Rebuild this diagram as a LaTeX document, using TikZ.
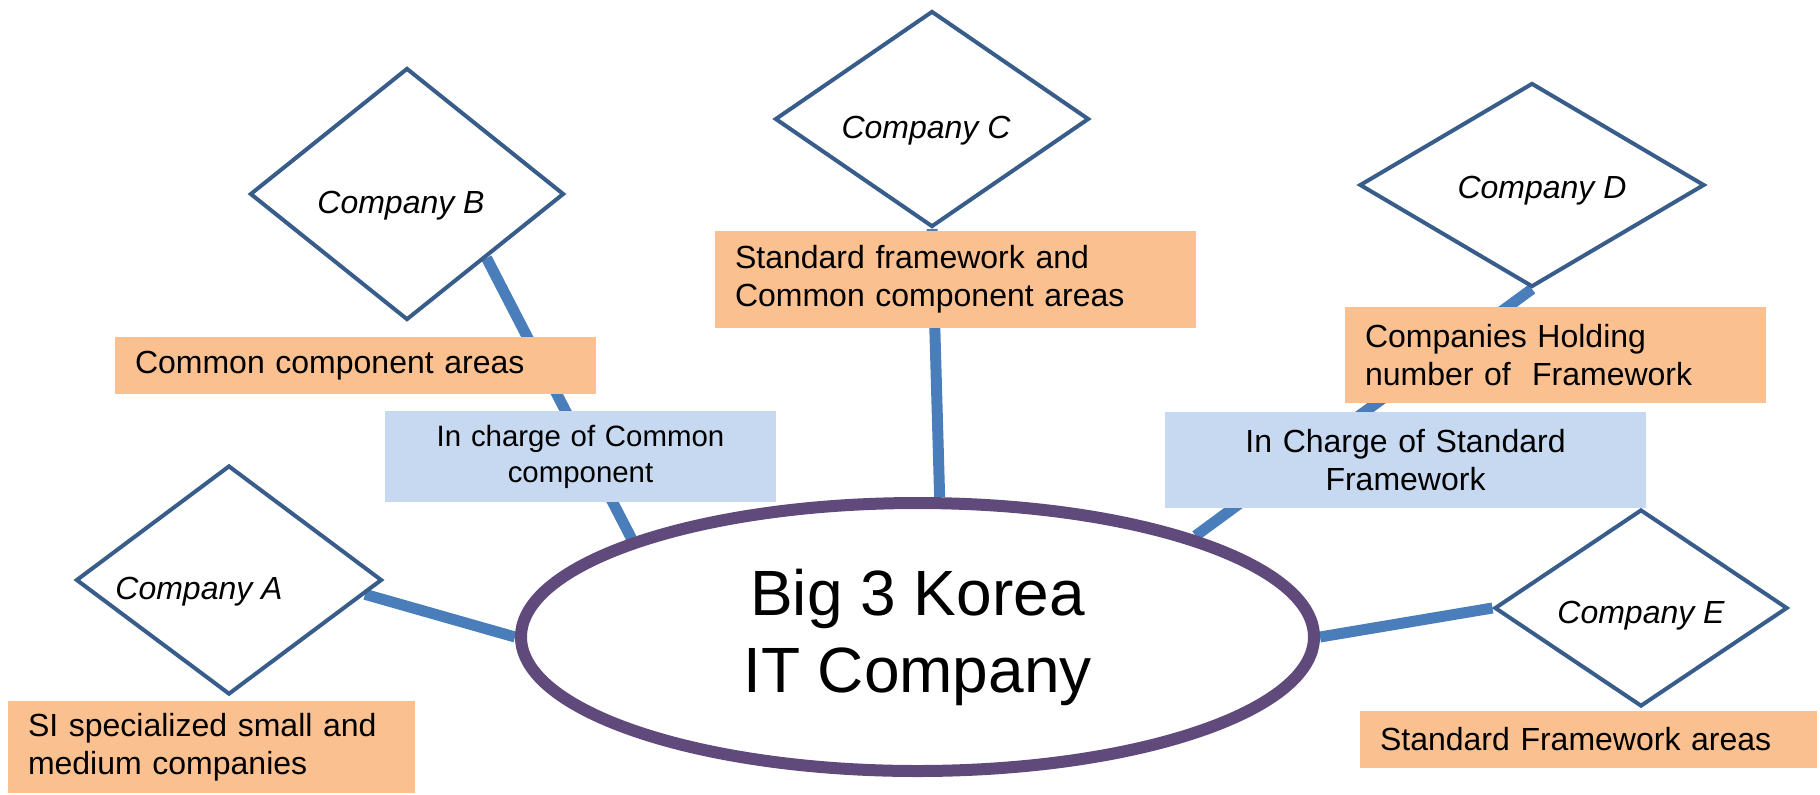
\documentclass[tikz,border=0pt]{standalone}
\usepackage{fontspec}
\setmainfont{Liberation Sans}
\usetikzlibrary{shapes.geometric,backgrounds}

\definecolor{companyedge}{HTML}{385D8A}
\definecolor{linkblue}{HTML}{4A7EBB}
\definecolor{hubedge}{HTML}{604A7B}
\definecolor{areafill}{HTML}{FAC090}
\definecolor{chargefill}{HTML}{C6D9F1}

\tikzset{company/.style={diamond,aspect=2,draw=companyedge,line width=2pt,fill=white,inner sep=0pt,text height=19pt,text depth=0pt,font=\fontsize{16}{19}\selectfont\itshape}}
\tikzset{area/.style={fill=areafill,inner xsep=10pt,inner ysep=0pt,align=left,font=\fontsize{16}{19}\selectfont}}
\tikzset{charge/.style={fill=chargefill,inner sep=0pt,align=center,font=\fontsize{16}{19}\selectfont}}
\tikzset{link/.style={draw=linkblue,line width=5.5pt}}

\begin{document}
\begin{tikzpicture}[x=0.5pt,y=-0.5pt]
        \useasboundingbox (0,0) rectangle (1820,794);
        \node[ellipse,draw=hubedge,line width=6pt,fill=white,minimum width=396.5pt,minimum height=134pt,align=center,font=\fontsize{32}{38.5}\selectfont] (hub) at (917.5,637) {Big 3 Korea\\IT Company};
        \node[company,minimum width=153pt,minimum height=114.5pt] (compA) at (229,580) {Company A\hspace*{30pt}};
        \node[company,minimum width=157pt,minimum height=126pt] (compB) at (407,194) {Company B\hspace*{6pt}};
        \node[company,minimum width=157pt,minimum height=108pt] (compC) at (932,119) {Company C\hspace*{6pt}};
        \node[company,minimum width=172.5pt,minimum height=102pt,text height=13pt] (compD) at (1532,185) {\hspace*{10pt}Company D};
        \node[company,minimum width=146.5pt,minimum height=98.5pt,text height=15pt] (compE) at (1641,608) {Company E};
        \node[area,text width=183.5pt,minimum height=46pt] (areaA) at (211.5,747) {SI specialized small and\\medium companies};
        \node[area,text width=220.5pt,minimum height=28.5pt] (areaB) at (355.5,365.5) {Common component areas};
        \node[area,text width=220.5pt,minimum height=48.5pt] (areaC) at (955.5,279.5) {Standard framework and\\Common component areas};
        \node[area,text width=190.5pt,minimum height=48pt] (areaD) at (1555.5,355) {Companies Holding\\number of~ Framework};
        \node[area,text width=208.5pt,minimum height=28.5pt] (areaE) at (1588.5,739.5) {Standard Framework areas};
        \node[charge,text width=195.5pt,minimum height=45.5pt,font=\fontsize{14.7}{18}\selectfont] (chargeB) at (580.5,456.5) {In charge of Common\\component};
        \node[charge,text width=240.5pt,minimum height=48pt] (chargeD) at (1405.5,460) {In Charge of Standard\\Framework};
        \begin{scope}[on background layer]
                \draw[link] (compA.-6) -- (hub.west);
                \draw[link] (compB.south east) -- (hub.161);
                \draw[link] (compC.south) -- (hub.81);
                \draw[link] (compD.south) -- (hub.20);
                \draw[link] (hub.east) -- (compE.west);
        \end{scope}
\end{tikzpicture}
\end{document}
